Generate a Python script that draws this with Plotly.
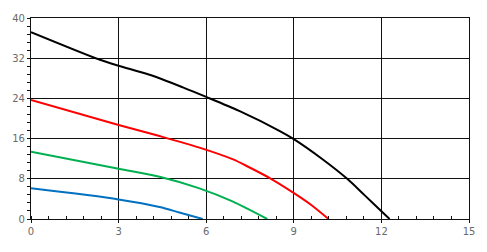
import plotly.graph_objects as go

# Data
black_x = [0, 2.36, 3, 4.06, 5.2, 6, 7.13, 8.49, 9, 9.96, 10.83, 11.43, 12, 12.28]
black_y = [37.2, 31.7, 30.5, 28.7, 26.2, 24.3, 21.5, 17.6, 15.9, 12.0, 8.0, 4.7, 1.55, 0]
red_x = [0, 3, 4.4, 5.77, 6.9, 7.47, 8.22, 9.02, 9.62, 10.19]
red_y = [23.7, 18.7, 16.5, 14.2, 11.9, 10.3, 8.0, 5.1, 2.7, 0]
green_x = [0, 3, 4.4, 5.77, 6.9, 8.09]
green_y = [13.4, 10.0, 8.4, 6.1, 3.5, 0]
blue_x = [0, 3, 4.4, 5.08, 5.88]
blue_y = [6.1, 3.9, 2.4, 1.3, 0]

x_ticks = [0, 3, 6, 9, 12, 15]
y_ticks = [0, 8, 16, 24, 32, 40]

series = [
    (black_x, black_y, "#000000"),
    (red_x, red_y, "#ff0000"),
    (green_x, green_y, "#00b050"),
    (blue_x, blue_y, "#0070c0"),
]

fig = go.Figure()
for xs, ys, c in series:
    fig.add_trace(go.Scatter(x=xs, y=ys, mode="lines",
                             line=dict(color=c, width=2, shape="spline", smoothing=0.8),
                             showlegend=False, hoverinfo="skip"))

font = dict(family="DejaVu Sans", size=10, color="#6a6a6a")
fig.update_layout(
    width=487, height=252,
    margin=dict(l=30.5, r=16, t=14, b=33),
    paper_bgcolor="white", plot_bgcolor="white",
    font=font,
)
fig.update_xaxes(
    range=[0, 15], tickvals=x_ticks, showgrid=True, gridcolor="#111111", gridwidth=1.2,
    showline=True, linecolor="#111111", linewidth=1.2, mirror=True,
    ticks="outside", ticklen=3, tickcolor="#111111", zeroline=False,
    minor=dict(dtick=0.6, ticks="inside", ticklen=3, tickcolor="#111111", showgrid=False),
    tickfont=font,
)
fig.update_yaxes(
    range=[0, 40], tickvals=y_ticks, showgrid=True, gridcolor="#111111", gridwidth=1.2,
    showline=True, linecolor="#111111", linewidth=1.2, mirror=True,
    ticks="outside", ticklen=3, tickcolor="#111111", zeroline=False,
    minor=dict(dtick=1.6, ticks="outside", ticklen=3, tickcolor="#111111", showgrid=False),
    tickfont=font,
)
fig.write_html("out.html")
